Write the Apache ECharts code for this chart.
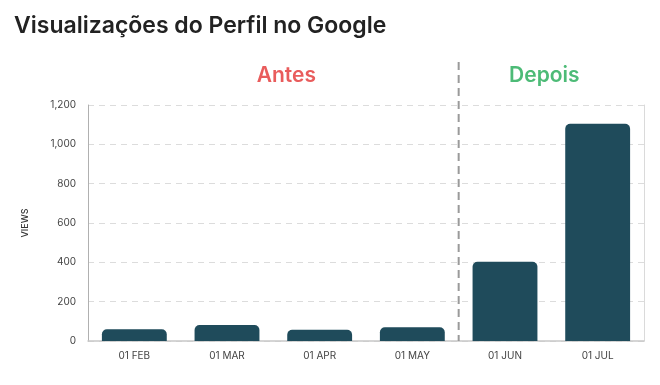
<!DOCTYPE html>
<html>
<head>
<meta charset="utf-8">
<script src="https://cdn.jsdelivr.net/npm/echarts@6/dist/echarts.min.js"></script>
<style>
  html, body { margin: 0; padding: 0; background: #fff; }
  #main { width: 660px; height: 385px; }
</style>
</head>
<body>
<div id="main"></div>
<script>
var months = ['01 FEB', '01 MAR', '01 APR', '01 MAY', '01 JUN', '01 JUL'];
var views = [60, 81, 57, 70, 403, 1105];
var yTicks = [0, 200, 400, 600, 800, 1000, 1200];

var chart = echarts.init(document.getElementById('main'));

function fmt(v) {
  return v.toLocaleString('en-US');
}

var option = {
  animation: false,
  title: {
    text: 'Visualizações do Perfil no Google',
    left: 9, top: 10,
    textStyle: { fontFamily: 'Inter', fontSize: 23, fontWeight: 600, color: '#222' }
  },
  grid: { left: 88, right: 16, top: 105, bottom: 44 },
  xAxis: {
    type: 'category',
    data: months,
    axisLine: { lineStyle: { color: '#c8c8c8', width: 1.5 } },
    axisTick: { show: false },
    axisLabel: { color: '#444', fontFamily: 'Inter', fontSize: 10, margin: 10 }
  },
  yAxis: [{
    type: 'value',
    min: yTicks[0], max: yTicks[yTicks.length - 1], interval: 200,
    name: 'VIEWS',
    nameLocation: 'middle',
    nameGap: 58,
    nameTextStyle: { color: '#333', fontFamily: 'Inter', fontSize: 9, fontWeight: 500 },
    axisLine: { show: true, lineStyle: { color: '#b0b0b0' } },
    axisTick: { show: false },
    axisLabel: { color: '#444', fontFamily: 'Inter', fontSize: 10, margin: 12, formatter: fmt },
    splitLine: { lineStyle: { color: '#dcdcdc', type: [6, 5] } }
  }, {
    type: 'value',
    position: 'right',
    min: yTicks[0], max: yTicks[yTicks.length - 1], interval: 200,
    axisLine: { show: true, lineStyle: { color: '#dadada' } },
    axisTick: { show: false },
    axisLabel: { show: false },
    splitLine: { show: false }
  }],
  series: [{
    type: 'bar',
    data: views,
    barWidth: '70%',
    itemStyle: { color: '#1f4b5b', borderRadius: [5, 5, 0, 0] }
  }]
};
chart.setOption(option);

// divider between "Antes" and "Depois", placed from the category scale
var p3 = chart.convertToPixel({ xAxisIndex: 0 }, months[3]);
var p4 = chart.convertToPixel({ xAxisIndex: 0 }, months[4]);
var p0 = chart.convertToPixel({ xAxisIndex: 0 }, months[0]);
var p5 = chart.convertToPixel({ xAxisIndex: 0 }, months[5]);
var divX = (p3 + p4) / 2;
var yBase = chart.convertToPixel({ yAxisIndex: 0 }, 0);

chart.setOption({
  graphic: [{
    type: 'line',
    shape: { x1: divX, y1: 62, x2: divX, y2: yBase },
    style: { stroke: '#9a9a9a', lineWidth: 2, lineDash: [8, 5] },
    z: 10
  }, {
    type: 'text',
    x: (p0 + p3) / 2 + 13, y: 76,
    style: { text: 'Antes', fill: '#e95c5c', font: '600 21px Inter', textAlign: 'center', textVerticalAlign: 'middle' }
  }, {
    type: 'text',
    x: (p4 + p5) / 2 - 7, y: 76,
    style: { text: 'Depois', fill: '#4dbb77', font: '600 21px Inter', textAlign: 'center', textVerticalAlign: 'middle' }
  }]
});
</script>
</body>
</html>
